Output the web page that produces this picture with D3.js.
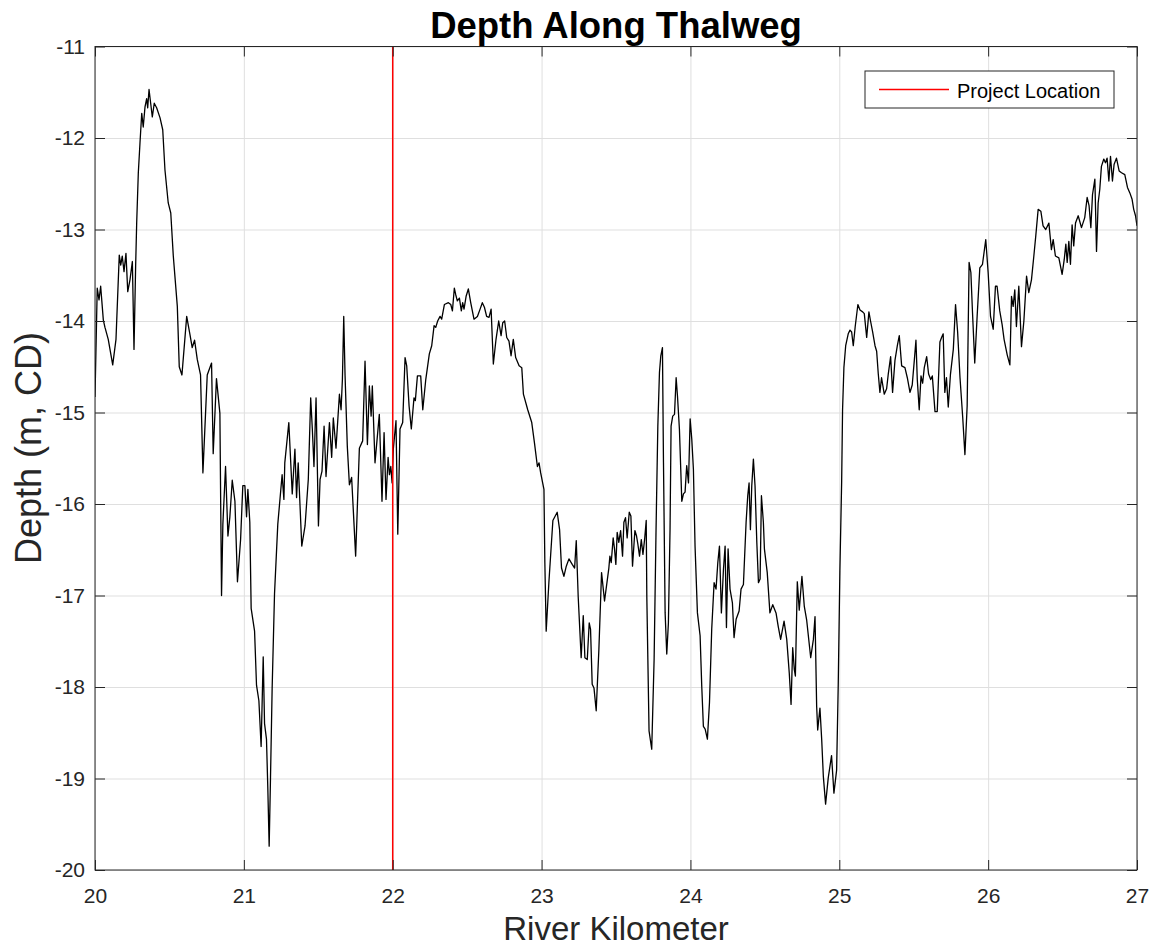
<!DOCTYPE html>
<html>
<head>
<meta charset="utf-8">
<script src="https://cdn.jsdelivr.net/npm/d3@7"></script>
<style>
  html, body { margin: 0; padding: 0; background: #ffffff; }
  svg { display: block; font-family: "Liberation Sans", Arial, Helvetica, sans-serif; }
</style>
</head>
<body>
<svg id="chart" width="1152" height="948"></svg>
<script>
// Thalweg survey: river kilometre and bed depth (m, chart datum)
const riverKm = [
  20.000, 20.015, 20.027, 20.038, 20.056, 20.067, 20.089, 20.119, 20.141, 20.163,
  20.173, 20.183, 20.195, 20.208, 20.220, 20.235, 20.251, 20.262, 20.273, 20.280,
  20.291, 20.302, 20.314, 20.324, 20.336, 20.347, 20.354, 20.363, 20.374, 20.385,
  20.398, 20.414, 20.437, 20.455, 20.470, 20.492, 20.509, 20.526, 20.553, 20.566,
  20.584, 20.616, 20.638, 20.653, 20.669, 20.687, 20.709, 20.725, 20.754, 20.783,
  20.794, 20.816, 20.839, 20.850, 20.859, 20.877, 20.893, 20.906, 20.922, 20.940,
  20.957, 20.978, 20.993, 21.007, 21.018, 21.027, 21.040, 21.049, 21.072, 21.085,
  21.101, 21.116, 21.130, 21.139, 21.152, 21.161, 21.170, 21.179, 21.190, 21.206,
  21.228, 21.257, 21.269, 21.275, 21.302, 21.325, 21.343, 21.354, 21.365, 21.389,
  21.411, 21.433, 21.449, 21.460, 21.471, 21.485, 21.501, 21.512, 21.525, 21.539,
  21.552, 21.575, 21.590, 21.601, 21.619, 21.642, 21.653, 21.662, 21.671, 21.680,
  21.695, 21.709, 21.724, 21.751, 21.776, 21.798, 21.814, 21.830, 21.843, 21.855,
  21.863, 21.881, 21.910, 21.928, 21.942, 21.955, 21.969, 21.978, 21.987, 21.996,
  22.004, 22.022, 22.034, 22.049, 22.067, 22.083, 22.094, 22.110, 22.125, 22.143,
  22.152, 22.166, 22.188, 22.202, 22.222, 22.246, 22.262, 22.278, 22.289, 22.302,
  22.318, 22.329, 22.347, 22.374, 22.390, 22.401, 22.414, 22.423, 22.434, 22.448,
  22.461, 22.470, 22.479, 22.493, 22.508, 22.524, 22.546, 22.569, 22.587, 22.602,
  22.616, 22.631, 22.647, 22.661, 22.676, 22.694, 22.712, 22.728, 22.739, 22.752,
  22.766, 22.781, 22.795, 22.810, 22.826, 22.849, 22.867, 22.878, 22.907, 22.934,
  22.952, 22.972, 22.983, 22.994, 23.016, 23.022, 23.031, 23.049, 23.076, 23.105,
  23.121, 23.134, 23.150, 23.166, 23.184, 23.206, 23.222, 23.233, 23.246, 23.266,
  23.280, 23.291, 23.307, 23.320, 23.329, 23.340, 23.352, 23.367, 23.385, 23.403,
  23.423, 23.452, 23.459, 23.468, 23.481, 23.490, 23.499, 23.508, 23.519, 23.531,
  23.544, 23.553, 23.564, 23.575, 23.589, 23.600, 23.611, 23.627, 23.638, 23.647,
  23.658, 23.670, 23.681, 23.692, 23.703, 23.707, 23.722, 23.740, 23.756, 23.769,
  23.781, 23.792, 23.801, 23.812, 23.819, 23.830, 23.841, 23.852, 23.863, 23.870,
  23.881, 23.893, 23.904, 23.913, 23.926, 23.935, 23.942, 23.953, 23.964, 23.975,
  23.987, 23.998, 24.009, 24.020, 24.031, 24.047, 24.065, 24.076, 24.087, 24.099,
  24.114, 24.128, 24.143, 24.159, 24.172, 24.184, 24.195, 24.208, 24.222, 24.233,
  24.242, 24.253, 24.266, 24.282, 24.293, 24.307, 24.327, 24.340, 24.356, 24.374,
  24.385, 24.394, 24.403, 24.412, 24.423, 24.434, 24.446, 24.457, 24.468, 24.477,
  24.490, 24.497, 24.516, 24.534, 24.553, 24.575, 24.590, 24.606, 24.629, 24.647,
  24.664, 24.676, 24.687, 24.698, 24.705, 24.718, 24.731, 24.749, 24.765, 24.781,
  24.808, 24.826, 24.837, 24.848, 24.855, 24.870, 24.882, 24.893, 24.908, 24.926,
  24.948, 24.964, 24.982, 24.993, 25.004, 25.016, 25.022, 25.031, 25.043, 25.060,
  25.072, 25.083, 25.094, 25.107, 25.125, 25.139, 25.157, 25.168, 25.184, 25.199,
  25.210, 25.224, 25.240, 25.251, 25.262, 25.273, 25.284, 25.302, 25.318, 25.329,
  25.345, 25.358, 25.374, 25.390, 25.403, 25.419, 25.441, 25.457, 25.475, 25.490,
  25.504, 25.515, 25.524, 25.537, 25.549, 25.560, 25.571, 25.587, 25.600, 25.614,
  25.625, 25.643, 25.658, 25.676, 25.687, 25.698, 25.709, 25.720, 25.732, 25.747,
  25.766, 25.781, 25.795, 25.811, 25.829, 25.844, 25.859, 25.872, 25.884, 25.895,
  25.910, 25.926, 25.944, 25.962, 25.984, 26.000, 26.016, 26.034, 26.049, 26.060,
  26.078, 26.094, 26.107, 26.128, 26.146, 26.157, 26.168, 26.179, 26.190, 26.206,
  26.224, 26.240, 26.258, 26.273, 26.291, 26.307, 26.320, 26.336, 26.354, 26.369,
  26.387, 26.408, 26.425, 26.437, 26.452, 26.475, 26.497, 26.511, 26.522, 26.531,
  26.542, 26.553, 26.564, 26.575, 26.587, 26.605, 26.627, 26.649, 26.665, 26.678,
  26.690, 26.701, 26.717, 26.728, 26.739, 26.750, 26.761, 26.777, 26.788, 26.799,
  26.811, 26.822, 26.835, 26.846, 26.862, 26.880, 26.896, 26.918, 26.936, 26.952,
  26.967, 26.978, 26.990, 27.000
];

const depthM = [
  -14.83, -13.64, -13.77, -13.62, -13.99, -14.07, -14.20, -14.48, -14.20, -13.28,
  -13.39, -13.29, -13.46, -13.26, -13.68, -13.55, -13.35, -14.31, -13.40, -12.93,
  -12.38, -12.06, -11.73, -11.88, -11.66, -11.57, -11.67, -11.47, -11.62, -11.77,
  -11.62, -11.67, -11.78, -11.91, -12.35, -12.71, -12.82, -13.29, -13.84, -14.50,
  -14.59, -13.95, -14.15, -14.29, -14.21, -14.42, -14.59, -15.66, -14.59, -14.46,
  -15.45, -14.63, -15.01, -17.00, -16.22, -15.59, -16.35, -16.14, -15.74, -15.97,
  -16.85, -16.39, -15.80, -15.80, -16.14, -15.84, -16.20, -17.14, -17.39, -17.98,
  -18.15, -18.65, -17.67, -18.40, -18.57, -19.11, -19.74, -18.99, -18.02, -16.98,
  -16.22, -15.68, -15.95, -15.55, -15.11, -15.89, -15.40, -15.93, -15.55, -16.46,
  -16.24, -15.73, -14.84, -15.18, -15.59, -14.84, -16.24, -15.73, -15.64, -15.15,
  -15.70, -15.11, -15.49, -15.06, -15.39, -14.80, -14.97, -14.64, -13.95, -14.60,
  -15.37, -15.79, -15.71, -16.57, -15.39, -15.31, -14.44, -15.35, -14.71, -15.04,
  -14.71, -15.55, -15.02, -15.97, -15.22, -15.95, -15.49, -15.68, -15.59, -15.77,
  -15.40, -15.09, -16.33, -15.18, -15.11, -14.40, -14.49, -14.93, -15.18, -14.84,
  -14.87, -14.60, -14.60, -14.97, -14.64, -14.36, -14.27, -14.05, -14.07, -14.00,
  -13.95, -13.98, -13.82, -13.80, -13.82, -13.89, -13.64, -13.71, -13.78, -13.75,
  -13.89, -13.80, -13.87, -13.73, -13.65, -13.80, -13.98, -13.95, -13.87, -13.80,
  -13.85, -13.95, -13.96, -13.87, -14.47, -14.20, -14.00, -14.16, -14.02, -14.00,
  -14.18, -14.22, -14.38, -14.20, -14.40, -14.49, -14.51, -14.80, -14.97, -15.11,
  -15.33, -15.59, -15.55, -15.66, -15.84, -16.64, -17.39, -16.86, -16.18, -16.09,
  -16.28, -16.70, -16.79, -16.68, -16.60, -16.66, -16.70, -16.40, -17.01, -17.68,
  -17.22, -17.68, -17.70, -17.30, -17.37, -17.97, -18.01, -18.26, -17.59, -16.75,
  -17.06, -16.70, -16.57, -16.64, -16.37, -16.49, -16.66, -16.31, -16.42, -16.29,
  -16.57, -16.20, -16.15, -16.37, -16.09, -16.13, -16.68, -16.29, -16.35, -16.44,
  -16.57, -16.39, -16.55, -16.39, -16.18, -17.01, -18.48, -18.68, -17.70, -16.28,
  -15.15, -14.56, -14.38, -14.29, -15.55, -17.19, -17.64, -17.30, -16.28, -15.15,
  -15.04, -15.02, -14.62, -14.82, -15.18, -15.62, -15.97, -15.89, -15.87, -15.58,
  -15.77, -15.07, -15.29, -15.62, -16.46, -17.19, -17.44, -17.99, -18.43, -18.46,
  -18.57, -18.17, -17.37, -16.86, -16.93, -16.64, -16.46, -17.19, -16.71, -16.46,
  -17.35, -16.49, -16.93, -17.08, -17.46, -17.26, -17.17, -16.93, -16.88, -16.20,
  -15.91, -15.77, -16.28, -15.80, -15.51, -15.80, -16.42, -16.86, -16.82, -15.91,
  -16.20, -16.49, -16.75, -17.19, -17.10, -17.19, -17.34, -17.48, -17.28, -17.48,
  -17.85, -18.19, -17.57, -17.81, -17.88, -16.85, -17.16, -16.79, -17.12, -17.27,
  -17.68, -17.48, -17.23, -18.21, -18.47, -18.23, -18.58, -18.98, -19.28, -18.99,
  -18.75, -19.16, -18.91, -17.97, -16.73, -15.75, -14.97, -14.51, -14.27, -14.14,
  -14.10, -14.12, -14.27, -14.06, -13.82, -13.88, -13.90, -13.92, -14.18, -13.90,
  -14.00, -14.12, -14.27, -14.33, -14.58, -14.78, -14.62, -14.80, -14.74, -14.58,
  -14.39, -14.78, -14.43, -14.27, -14.16, -14.49, -14.51, -14.62, -14.78, -14.70,
  -14.43, -14.21, -14.64, -14.97, -14.60, -14.68, -14.51, -14.39, -14.58, -14.64,
  -14.60, -14.99, -14.99, -14.23, -14.18, -14.14, -14.78, -14.62, -14.94, -14.58,
  -14.31, -13.82, -14.12, -14.62, -15.05, -15.46, -14.93, -13.36, -13.47, -13.91,
  -14.46, -13.95, -13.42, -13.38, -13.11, -13.47, -13.95, -14.09, -13.62, -13.62,
  -13.89, -14.04, -14.20, -14.37, -14.48, -13.73, -13.84, -13.66, -14.06, -13.62,
  -14.28, -14.00, -13.51, -13.69, -13.55, -13.29, -13.07, -12.78, -12.80, -12.96,
  -13.00, -12.93, -13.22, -13.11, -13.29, -13.31, -13.49, -13.33, -13.16, -13.36,
  -13.13, -13.38, -12.95, -13.18, -12.93, -12.85, -12.98, -12.87, -12.65, -12.74,
  -12.98, -12.62, -12.45, -13.24, -12.71, -12.56, -12.31, -12.23, -12.27, -12.22,
  -12.47, -12.20, -12.47, -12.29, -12.22, -12.36, -12.38, -12.40, -12.54, -12.60,
  -12.67, -12.78, -12.85, -12.96
];

const projectKm = 22;
const legendLabels = ["Project Location"];
const xTicks = [20, 21, 22, 23, 24, 25, 26, 27];
const yTicks = [-20, -19, -18, -17, -16, -15, -14, -13, -12, -11];

const chartTitle = "Depth Along Thalweg";
const xTitle = "River Kilometer";
const yTitle = "Depth (m, CD)";

// ---- layout ----
const margin = { left: 95, right: 15, top: 46.5, bottom: 78 };
const W = 1152, H = 948;
const plotW = W - margin.left - margin.right;
const plotH = H - margin.top - margin.bottom;
const axisColor = "#262626";
const gridColor = "#dfdfdf";
const tickLen = 10;

const svg = d3.select("#chart");

const x = d3.scaleLinear().domain([20, 27]).range([margin.left, margin.left + plotW]);
const y = d3.scaleLinear().domain([-20, -11]).range([margin.top + plotH, margin.top]);

// white plot background
svg.append("rect")
  .attr("x", margin.left).attr("y", margin.top)
  .attr("width", plotW).attr("height", plotH)
  .attr("fill", "#ffffff");

// grid lines
const grid = svg.append("g").attr("class", "grid");
grid.append("g")
  .attr("transform", `translate(0,${margin.top + plotH})`)
  .call(d3.axisBottom(x).tickValues(xTicks).tickSize(-plotH).tickFormat(""))
  .call(g => g.select(".domain").remove())
  .call(g => g.selectAll("line").attr("stroke", gridColor).attr("stroke-width", 1));
grid.append("g")
  .attr("transform", `translate(${margin.left},0)`)
  .call(d3.axisLeft(y).tickValues(yTicks).tickSize(-plotW).tickFormat(""))
  .call(g => g.select(".domain").remove())
  .call(g => g.selectAll("line").attr("stroke", gridColor).attr("stroke-width", 1));

// clip region for data
svg.append("clipPath").attr("id", "plotClip")
  .append("rect")
  .attr("x", margin.left).attr("y", margin.top)
  .attr("width", plotW).attr("height", plotH);

// thalweg depth profile
const profile = riverKm.map((k, i) => [k, depthM[i]]);
const line = d3.line().x(d => x(d[0])).y(d => y(d[1]));
svg.append("path")
  .datum(profile)
  .attr("clip-path", "url(#plotClip)")
  .attr("fill", "none")
  .attr("stroke", "#000000")
  .attr("stroke-width", 1.3)
  .attr("stroke-linejoin", "round")
  .attr("d", line);

// project location marker
svg.append("line")
  .attr("x1", x(projectKm)).attr("x2", x(projectKm))
  .attr("y1", y(-20)).attr("y2", y(-11))
  .attr("stroke", "#ff0000")
  .attr("stroke-width", 1.5);

// axes with inward ticks on all four sides
const fontTick = 21;
const styleAxis = g => {
  g.select(".domain").remove();
  g.selectAll(".tick line").attr("stroke", axisColor).attr("stroke-width", 1);
  g.selectAll(".tick text").attr("fill", axisColor).attr("font-size", fontTick)
    .attr("font-family", "'Liberation Sans', Arial, Helvetica, sans-serif");
};

svg.append("g")
  .attr("transform", `translate(0,${margin.top + plotH})`)
  .call(d3.axisBottom(x).tickValues(xTicks).tickSize(-tickLen).tickPadding(18).tickFormat(d3.format("d")))
  .call(styleAxis);
svg.append("g")
  .attr("transform", `translate(0,${margin.top})`)
  .call(d3.axisTop(x).tickValues(xTicks).tickSize(-tickLen).tickFormat(""))
  .call(styleAxis);
svg.append("g")
  .attr("transform", `translate(${margin.left},0)`)
  .call(d3.axisLeft(y).tickValues(yTicks).tickSize(-tickLen).tickPadding(10).tickFormat(d => d3.format("d")(d).replace("\u2212", "-")))
  .call(styleAxis);
svg.append("g")
  .attr("transform", `translate(${margin.left + plotW},0)`)
  .call(d3.axisRight(y).tickValues(yTicks).tickSize(-tickLen).tickFormat(""))
  .call(styleAxis);

// axes box
svg.append("rect")
  .attr("x", margin.left).attr("y", margin.top)
  .attr("width", plotW).attr("height", plotH)
  .attr("fill", "none")
  .attr("stroke", axisColor)
  .attr("stroke-width", 1);

// titles
svg.append("text")
  .attr("x", margin.left + plotW / 2).attr("y", 38)
  .attr("text-anchor", "middle")
  .attr("font-size", 36.5).attr("font-weight", "bold")
  .attr("fill", "#000000")
  .text(chartTitle);

svg.append("text")
  .attr("x", margin.left + plotW / 2).attr("y", 940)
  .attr("text-anchor", "middle")
  .attr("font-size", 33)
  .attr("fill", axisColor)
  .text(xTitle);

svg.append("text")
  .attr("transform", `translate(41,448) rotate(-90)`)
  .attr("text-anchor", "middle")
  .attr("font-size", 36)
  .attr("fill", axisColor)
  .text(yTitle);

// legend
const legend = svg.append("g").attr("class", "legend");
legend.append("rect")
  .attr("x", 865).attr("y", 71).attr("width", 249).attr("height", 37)
  .attr("fill", "#ffffff").attr("stroke", axisColor).attr("stroke-width", 1);
legend.append("line")
  .attr("x1", 879).attr("x2", 949).attr("y1", 89.5).attr("y2", 89.5)
  .attr("stroke", "#ff0000").attr("stroke-width", 1.5);
legend.append("text")
  .attr("x", 957).attr("y", 97.5)
  .attr("font-size", 20)
  .attr("fill", "#000000")
  .text(legendLabels[0]);
</script>
</body>
</html>
